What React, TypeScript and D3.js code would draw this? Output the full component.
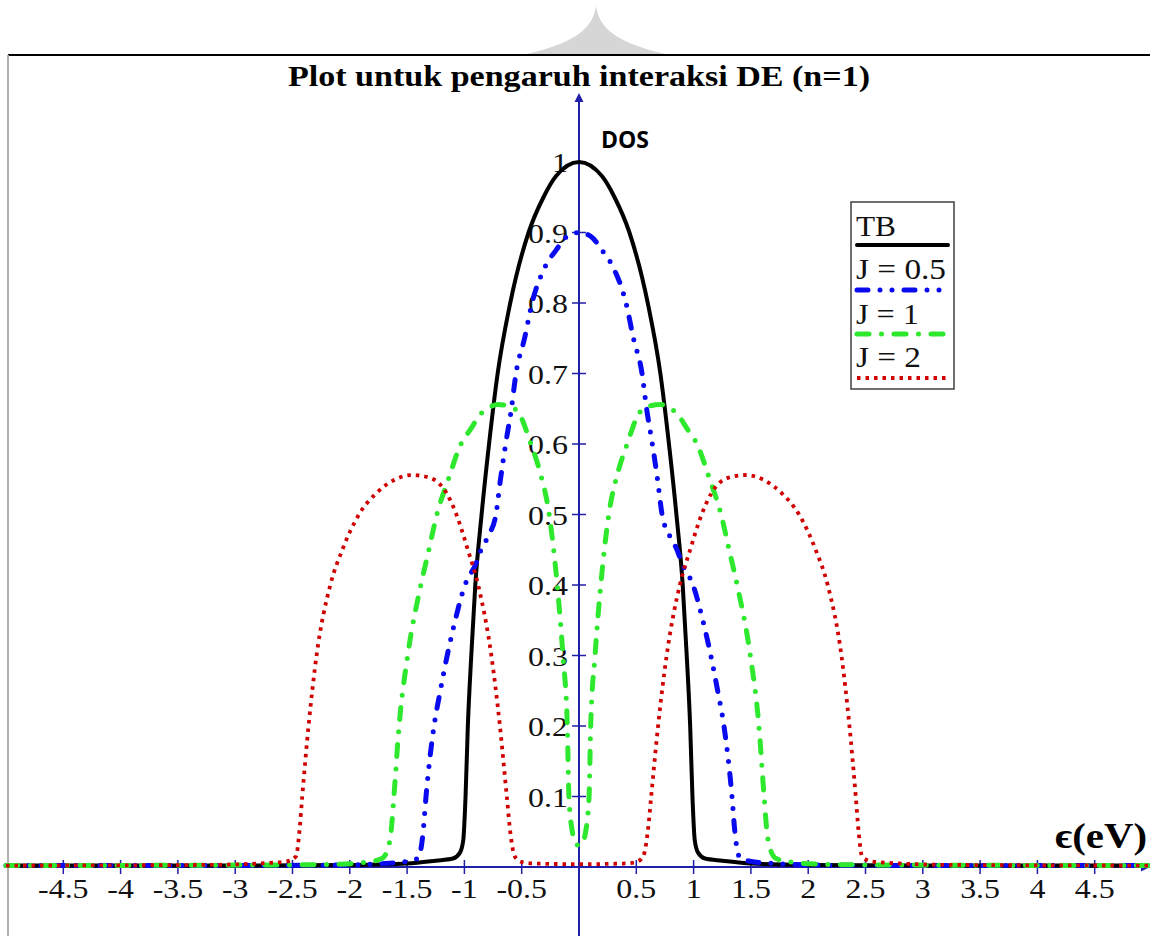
import React from "react";
import * as d3 from "d3";

// ---- data ----
const tbE = [-5, -3, -2, -1.5, -1.25, -1.1, -1.04, -1.01, -0.99, -0.97, -0.94, -0.905, -0.85, -0.785, -0.71, -0.6, -0.44, -0.31, -0.2, 0, 0.2, 0.31, 0.44, 0.6, 0.71, 0.785, 0.85, 0.905, 0.94, 0.97, 0.99, 1.01, 1.04, 1.1, 1.25, 1.5, 2, 3, 5];
const tbDos = [0.002, 0.002, 0.003, 0.005, 0.009, 0.012, 0.02, 0.038, 0.1, 0.2, 0.3, 0.4, 0.5, 0.6, 0.7, 0.8, 0.9, 0.95, 0.98, 1.0, 0.98, 0.95, 0.9, 0.8, 0.7, 0.6, 0.5, 0.4, 0.3, 0.2, 0.1, 0.038, 0.02, 0.012, 0.009, 0.005, 0.003, 0.002, 0.002];

const j05E = [-5, -3, -2, -1.7, -1.5, -1.41, -1.38, -1.36, -1.335, -1.265, -1.21, -1.15, -1.08, -0.995, -0.9, -0.855, -0.79, -0.725, -0.685, -0.64, -0.59, -0.55, -0.475, -0.41, -0.3, -0.2, -0.1, 0, 0.1, 0.2, 0.3, 0.41, 0.475, 0.55, 0.59, 0.64, 0.685, 0.725, 0.79, 0.855, 0.9, 0.995, 1.08, 1.15, 1.21, 1.265, 1.335, 1.36, 1.38, 1.41, 1.5, 1.7, 2, 3, 5];
const j05Dos = [0.002, 0.002, 0.003, 0.005, 0.008, 0.012, 0.025, 0.05, 0.1, 0.2, 0.25, 0.3, 0.35, 0.4, 0.43, 0.45, 0.47, 0.5, 0.55, 0.6, 0.65, 0.7, 0.75, 0.8, 0.85, 0.875, 0.895, 0.9, 0.895, 0.875, 0.85, 0.8, 0.75, 0.7, 0.65, 0.6, 0.55, 0.5, 0.47, 0.45, 0.43, 0.4, 0.35, 0.3, 0.25, 0.2, 0.1, 0.05, 0.025, 0.012, 0.008, 0.005, 0.003, 0.002, 0.002];

const j1E = [-5, -2.5, -2.1, -1.85, -1.72, -1.67, -1.64, -1.615, -1.57, -1.495, -1.38, -1.31, -1.24, -1.14, -1.03, -0.95, -0.85, -0.78, -0.71, -0.62, -0.53, -0.42, -0.34, -0.26, -0.19, -0.14, -0.102, -0.088, -0.058, -0.03, 0, 0.03, 0.058, 0.088, 0.102, 0.14, 0.19, 0.26, 0.34, 0.42, 0.53, 0.62, 0.71, 0.78, 0.85, 0.95, 1.03, 1.14, 1.24, 1.31, 1.38, 1.495, 1.57, 1.615, 1.64, 1.67, 1.72, 1.85, 2.1, 2.5, 5];
const j1Dos = [0.002, 0.003, 0.004, 0.007, 0.012, 0.025, 0.05, 0.1, 0.2, 0.3, 0.4, 0.45, 0.5, 0.55, 0.6, 0.62, 0.644, 0.652, 0.656, 0.654, 0.645, 0.6, 0.56, 0.5, 0.4, 0.3, 0.2, 0.1, 0.05, 0.035, 0.03, 0.035, 0.05, 0.1, 0.2, 0.3, 0.4, 0.5, 0.56, 0.6, 0.645, 0.654, 0.656, 0.652, 0.644, 0.62, 0.6, 0.55, 0.5, 0.45, 0.4, 0.3, 0.2, 0.1, 0.05, 0.025, 0.012, 0.007, 0.004, 0.003, 0.002];

const j2E = [-5, -3.2, -2.8, -2.55, -2.47, -2.44, -2.415, -2.36, -2.29, -2.17, -2.065, -1.92, -1.77, -1.6, -1.46, -1.3, -1.155, -1.07, -0.97, -0.88, -0.765, -0.69, -0.63, -0.6, -0.56, -0.5, -0.4, 0, 0.4, 0.5, 0.56, 0.6, 0.63, 0.69, 0.765, 0.88, 0.97, 1.07, 1.155, 1.3, 1.46, 1.6, 1.77, 1.92, 2.065, 2.17, 2.29, 2.36, 2.415, 2.44, 2.47, 2.55, 2.8, 3.2, 5];
const j2Dos = [0.002, 0.003, 0.005, 0.008, 0.015, 0.05, 0.1, 0.2, 0.3, 0.4, 0.45, 0.5, 0.53, 0.55, 0.556, 0.552, 0.53, 0.5, 0.45, 0.4, 0.3, 0.2, 0.1, 0.05, 0.015, 0.007, 0.005, 0.004, 0.005, 0.007, 0.015, 0.05, 0.1, 0.2, 0.3, 0.4, 0.45, 0.5, 0.53, 0.552, 0.556, 0.55, 0.53, 0.5, 0.45, 0.4, 0.3, 0.2, 0.1, 0.05, 0.015, 0.008, 0.005, 0.003, 0.002];

const xTicks = [-4.5, -4, -3.5, -3, -2.5, -2, -1.5, -1, -0.5, 0.5, 1, 1.5, 2, 2.5, 3, 3.5, 4, 4.5];
const yTicks = [0.1, 0.2, 0.3, 0.4, 0.5, 0.6, 0.7, 0.8, 0.9, 1];

const seriesNames = ["TB", "J = 0.5", "J = 1", "J = 2"];
const seriesColors = ["#000000", "#0a0af0", "#2ee82e", "#d00000"];
const seriesDash = [null, "11 12 0 12 0 12", "12 12.5 0 12.5", "3.5 5"];
const seriesWidth = [4, 5, 5, 3.8];
const seriesCap = ["round", "round", "round", "butt"];
const legendTextWidth = [40, 90, 63, 65];

const title = "Plot untuk pengaruh interaksi DE (n=1)";

const W = 1150;
const H = 936;
const AXIS = "#1f1faa";

export default function App() {
  const x = d3.scaleLinear().domain([-5, 5]).range([6, 1152]);
  const y = d3.scaleLinear().domain([0, 1]).range([867, 162]);
  const line = d3
    .line<[number, number]>()
    .x((d) => x(d[0]))
    .y((d) => y(d[1]))
    .curve(d3.curveMonotoneX);

  const series = [
    d3.zip(tbE, tbDos),
    d3.zip(j05E, j05Dos),
    d3.zip(j1E, j1Dos),
    d3.zip(j2E, j2Dos),
  ] as [number, number][][];

  const x0 = x(0);
  const y0 = y(0);
  const fmt = (v: number) => String(v);

  const legendRows = [
    { textY: 236, lineY: 245 },
    { textY: 279, lineY: 290 },
    { textY: 324, lineY: 334 },
    { textY: 367, lineY: 378 },
  ];

  return (
    <svg
      width={W}
      height={H}
      style={{ position: "absolute", left: 0, top: 0, background: "#fff" }}
    >
      <rect x={0} y={0} width={W} height={H} fill="#fff" />
      {/* watermark */}
      <path
        d="M596,6 C593,26 580,43 518,56 L674,56 C612,43 599,26 596,6 Z"
        fill="#d6d6d6"
      />
      {/* frame */}
      <line x1={8} y1={55} x2={W} y2={55} stroke="#000" strokeWidth={2} />
      <line x1={8} y1={55} x2={8} y2={H} stroke="#b0b0b0" strokeWidth={2} />

      {/* title */}
      <text
        x={x0}
        y={86}
        textAnchor="middle"
        fontFamily="'Liberation Serif', 'Times New Roman', serif"
        fontWeight="bold"
        fontSize={30}
        textLength={582}
        lengthAdjust="spacingAndGlyphs"
      >
        {title}
      </text>

      {/* axes */}
      <line x1={9} y1={y0} x2={1143} y2={y0} stroke={AXIS} strokeWidth={2} />
      <path d={`M1150,${y0} L1141,${y0 - 4.5} L1141,${y0 + 4.5} Z`} fill={AXIS} />
      <line x1={x0} y1={H} x2={x0} y2={100} stroke={AXIS} strokeWidth={2} />
      <path d={`M${x0},93 L${x0 - 4.5},102 L${x0 + 4.5},102 Z`} fill={AXIS} />

      {xTicks.map((t) => (
        <g key={"xt" + t}>
          <line x1={x(t)} x2={x(t)} y1={y0 - 7} y2={y0 + 7} stroke={AXIS} strokeWidth={1.5} />
          <text
            transform={`translate(${x(t)},898) scale(1.14,1)`}
            textAnchor="middle"
            fontFamily="'Liberation Serif', 'Times New Roman', serif"
            fontSize={28}
            fill="#111"
          >
            {fmt(t)}
          </text>
        </g>
      ))}
      {yTicks.map((t) => (
        <g key={"yt" + t}>
          <line x1={x0 - 7} x2={x0 + 7} y1={y(t)} y2={y(t)} stroke={AXIS} strokeWidth={1.5} />
          <text
            transform={`translate(568,${y(t) + 10}) scale(1.14,1)`}
            textAnchor="end"
            fontFamily="'Liberation Serif', 'Times New Roman', serif"
            fontSize={28}
            fill="#111"
          >
            {fmt(t)}
          </text>
        </g>
      ))}

      {/* axis titles */}
      <text
        x={601}
        y={148}
        fontFamily="'Open Sans', sans-serif"
        fontWeight="bold"
        fontSize={23}
        fill="#000"
      >
        DOS
      </text>
      <text
        x={1055}
        y={848}
        fontFamily="'Liberation Serif', 'DejaVu Serif', serif"
        fontWeight="bold"
        fontSize={36}
        textLength={92}
        lengthAdjust="spacingAndGlyphs"
        fill="#000"
      >
        ϵ(eV)
      </text>

      {/* curves */}
      {series.map((s, i) => (
        <path
          key={"s" + i}
          d={line(s) || ""}
          fill="none"
          stroke={seriesColors[i]}
          strokeWidth={seriesWidth[i]}
          strokeDasharray={seriesDash[i] || undefined}
          strokeLinecap={seriesCap[i] as any}
          strokeLinejoin="round"
        />
      ))}

      {/* legend */}
      <rect x={851} y={202} width={103} height={187} fill="#fff" stroke="#404040" strokeWidth={1.5} />
      {seriesNames.map((n, i) => (
        <g key={"lg" + i}>
          <text
            x={856}
            y={legendRows[i].textY}
            fontFamily="'Liberation Serif', 'Times New Roman', serif"
            fontSize={30}
            textLength={legendTextWidth[i]}
            lengthAdjust="spacingAndGlyphs"
            fill="#111"
          >
            {n}
          </text>
          <line
            x1={857}
            x2={948}
            y1={legendRows[i].lineY}
            y2={legendRows[i].lineY}
            stroke={seriesColors[i]}
            strokeWidth={seriesWidth[i]}
            strokeDasharray={seriesDash[i] || undefined}
            strokeLinecap={seriesCap[i] as any}
          />
        </g>
      ))}
    </svg>
  );
}
